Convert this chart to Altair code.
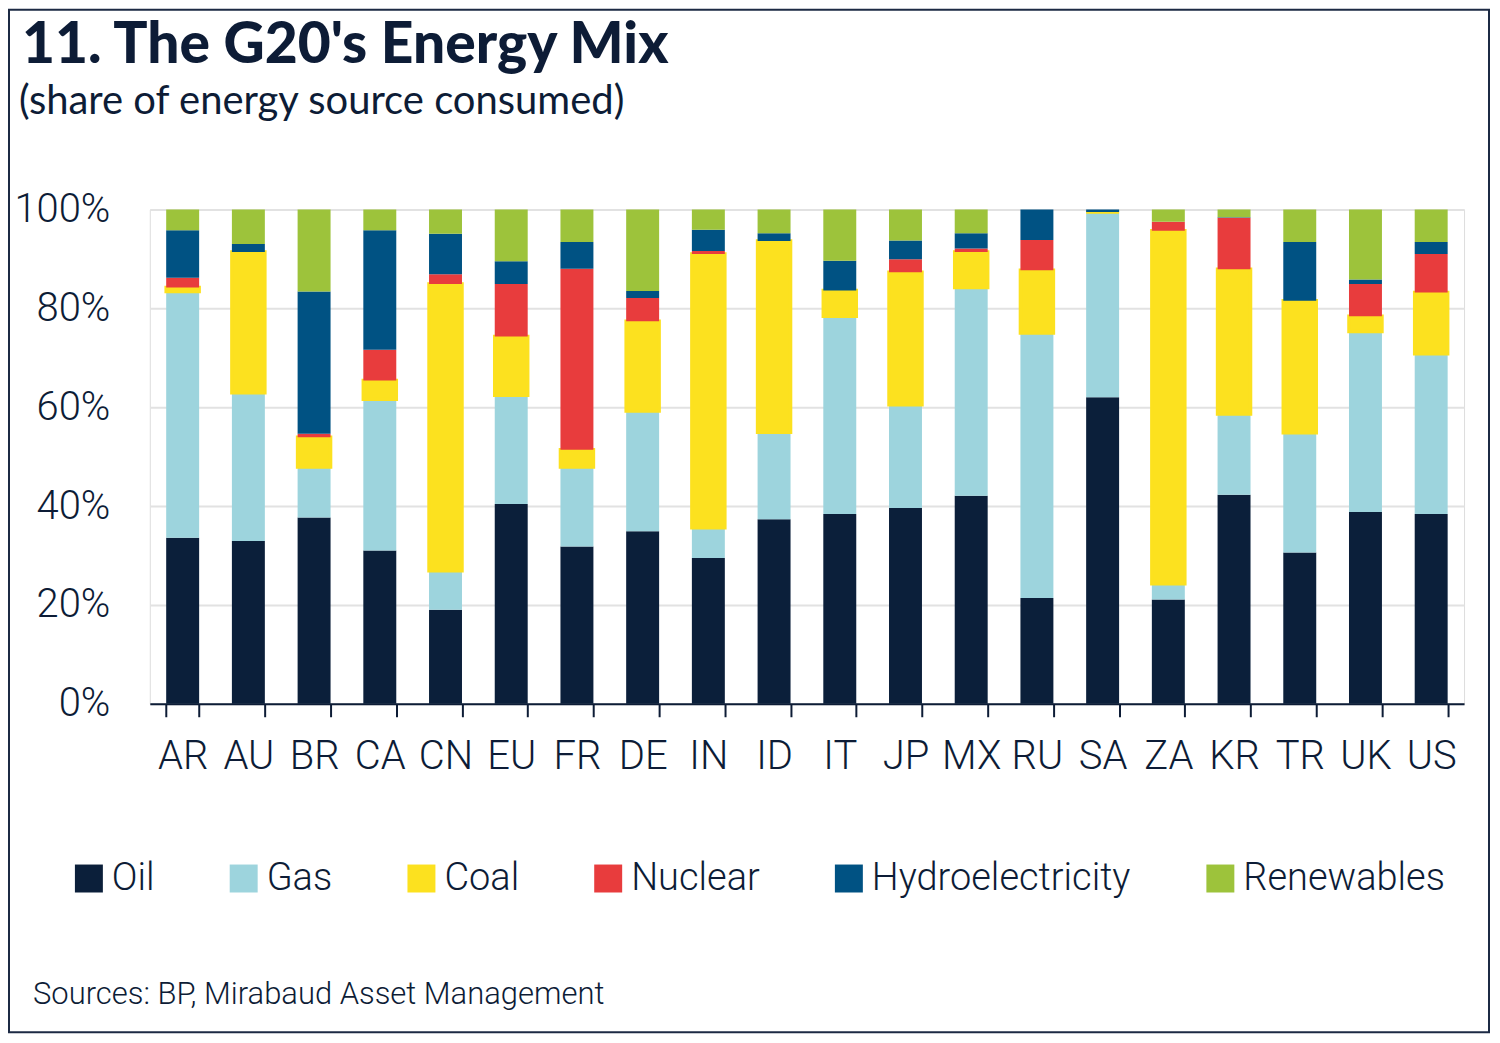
import altair as alt
import pandas as pd

countries = ["AR", "AU", "BR", "CA", "CN", "EU", "FR", "DE", "IN", "ID",
             "IT", "JP", "MX", "RU", "SA", "ZA", "KR", "TR", "UK", "US"]
sources = ["Oil", "Gas", "Coal", "Nuclear", "Hydroelectricity", "Renewables"]
colors = ["#0b1f3a", "#9dd4dd", "#fce11f", "#e83c3d", "#005283", "#9dc33b"]

oil = [33.6, 32.9, 37.7, 31.0, 19.0, 40.4, 31.8, 34.9, 29.5, 37.3,
       38.4, 39.6, 42.1, 21.4, 62.0, 21.1, 42.3, 30.6, 38.8, 38.4]
gas = [49.8, 30.0, 10.2, 30.6, 7.9, 22.0, 16.1, 24.3, 6.1, 17.6,
       40.0, 20.9, 42.1, 53.6, 37.5, 3.2, 16.3, 24.2, 36.5, 32.4]
coal = [0.8, 28.5, 6.0, 3.8, 58.0, 11.9, 3.5, 18.2, 55.4, 38.7,
        5.2, 26.8, 7.2, 12.7, 0.0, 71.4, 29.3, 26.7, 3.1, 12.4]
nuclear = [2.0, 0.0, 0.7, 6.2, 2.0, 10.6, 36.6, 4.7, 0.6, 0.0,
           0.0, 2.6, 0.7, 6.1, 0.0, 1.8, 10.4, 0.0, 6.5, 7.8]
hydro = [9.6, 1.6, 28.8, 24.2, 8.2, 4.6, 5.4, 1.4, 4.3, 1.6,
         6.0, 3.8, 3.1, 6.2, 0.5, 0.0, 0.1, 11.9, 0.9, 2.4]
renewables = [4.2, 7.0, 16.6, 4.2, 4.9, 10.5, 6.6, 16.5, 4.1, 4.8,
              10.4, 6.3, 4.8, 0.0, 0.0, 2.5, 1.6, 6.6, 14.2, 6.6]

title_text = ["11. The G20's Energy Mix"]
subtitle_text = ["(share of energy source consumed)"]
source_text = ["Sources: BP, Mirabaud Asset Management"]

series = [oil, gas, coal, nuclear, hydro, renewables]
rows = []
for si, (name, vals) in enumerate(zip(sources, series)):
    for c, v in zip(countries, vals):
        rows.append({"country": c, "source": name, "order": si, "share": v})
df = pd.DataFrame(rows)

NAVY = "#0d1c36"
FONT = "Roboto"
FW = 300

color_scale = alt.Scale(domain=sources, range=colors)

bars = alt.Chart(df).mark_bar(size=33).encode(
    x=alt.X("country:N", sort=countries, title=None,
            scale=alt.Scale(paddingInner=0.5, paddingOuter=0.25),
            axis=alt.Axis(labelAngle=0, labelFont=FONT, labelFontWeight=FW,
                          labelFontSize=40, labelColor=NAVY,
                          domainColor=NAVY, domainWidth=2,
                          tickColor=NAVY, tickWidth=2, tickSize=13,
                          tickBand="extent", labelPadding=20,
                          labelOverlap=False, grid=False)),
    y=alt.Y("share:Q", stack="zero", title=None,
            scale=alt.Scale(domain=[0, 100], clamp=True, nice=False),
            axis=alt.Axis(values=[0, 20, 40, 60, 80, 100],
                          labelExpr="datum.value + '%'",
                          labelFont=FONT, labelFontWeight=FW,
                          labelFontSize=40, labelColor=NAVY,
                          labelPadding=40, domain=False, ticks=False,
                          grid=True, gridColor="#e2e2e2", gridWidth=2)),
    color=alt.Color("source:N", scale=color_scale, sort=sources,
                    legend=alt.Legend(title=None, orient="none",
                                      legendX=-80, legendY=651,
                                      direction="horizontal", columns=6,
                                      symbolType="square", symbolSize=784,
                                      symbolStrokeWidth=0, symbolOpacity=1,
                                      labelFont=FONT, labelFontWeight=FW,
                                      labelFontSize=38,
                                      labelColor=NAVY, labelOffset=4,
                                      columnPadding=70, labelLimit=0)),
    stroke=alt.Stroke("source:N", scale=color_scale, legend=None),
    strokeWidth=alt.condition(alt.datum.source == "Coal", alt.value(3.5), alt.value(0)),
    order=alt.Order("order:Q", sort="ascending"),
)

title = alt.Chart(pd.DataFrame({"t": title_text})).mark_text(
    align="left", baseline="alphabetic", font="Lato", fontSize=57,
    fontWeight=900, color=NAVY
).encode(x=alt.value(-128), y=alt.value(-147), text="t:N")

subtitle = alt.Chart(pd.DataFrame({"t": subtitle_text})).mark_text(
    align="left", baseline="alphabetic", font="Lato", fontSize=40, color=NAVY
).encode(x=alt.value(-131), y=alt.value(-96), text="t:N")

note = alt.Chart(pd.DataFrame({"t": source_text})).mark_text(
    align="left", baseline="alphabetic", font=FONT, fontWeight=FW,
    fontSize=31, color=NAVY
).encode(x=alt.value(-117), y=alt.value(796), text="t:N")

frame = alt.Chart(pd.DataFrame({"f": [1]})).mark_rect(
    fillOpacity=0, stroke="#1c2a44", strokeWidth=2, clip=False
).encode(x=alt.value(-141), x2=alt.value(1341), y=alt.value(-200), y2=alt.value(824))

chart = alt.layer(bars, title, subtitle, note, frame).properties(
    width=1316, height=495,
    autosize=alt.AutoSizeParams(type="none"),
    padding={"left": 142, "top": 201, "right": 28, "bottom": 330},
).configure_view(stroke=None).configure(background="white")

chart.save("out.html", embed_options={"renderer": "svg", "actions": False})
